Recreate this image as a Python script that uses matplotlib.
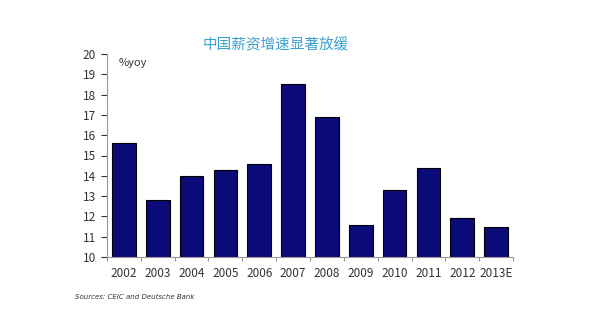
import matplotlib.pyplot as plt
import numpy as np

plt.rcParams['font.family'] = ['Noto Sans CJK SC', 'DejaVu Sans']

years = ['2002', '2003', '2004', '2005', '2006', '2007', '2008', '2009',
         '2010', '2011', '2012', '2013E']
wage_growth = [15.6, 12.8, 14.0, 14.3, 14.6, 18.5, 16.9, 11.6, 13.3, 14.4, 11.9, 11.5]

fig = plt.figure(figsize=(5.98, 3.14), dpi=100)
ax = fig.add_axes([107/598, 1-257/314, (513-107)/598, (257-54)/314])

x = np.arange(len(years))
ax.bar(x, wage_growth, width=0.7, bottom=0, color='#0a0a78', edgecolor='black', linewidth=0.8)

ax.set_ylim(10, 20)
ax.set_xlim(-0.5, len(years) - 0.5)
ax.set_yticks(range(10, 21))
ax.tick_params(axis='y', labelsize=8.5, colors='#333333', length=4, width=0.8,
               direction='out', pad=4)
ax.set_xticks(x)
ax.set_xticklabels(years)
ax.tick_params(axis='x', which='major', length=0, labelsize=8.5, colors='#333333', pad=7)
ax.set_xticks(np.arange(-0.5, len(years)), minor=True)
ax.tick_params(axis='x', which='minor', length=3, width=0.8, color='#999999')
for t in ax.get_yticklines():
    t.set_color('#999999')

for s in ['top', 'right']:
    ax.spines[s].set_visible(False)
for s in ['left', 'bottom']:
    ax.spines[s].set_color('#999999')
    ax.spines[s].set_linewidth(0.8)

fig.text(276/598, 1-45/314, '中国薪资增速显著放缓', color='#3a9fd0', fontsize=10.5,
         ha='center', va='center', weight='medium')
fig.text(119/598, 1-63/314, '%yoy', color='#333333', fontsize=8, ha='left', va='center')
fig.text(75/598, 1-297/314, 'Sources: CEIC and Deutsche Bank', color='#333333', fontsize=5,
         style='italic', ha='left', va='center', family=['DejaVu Sans'])

fig.savefig('out.png', dpi=100)
